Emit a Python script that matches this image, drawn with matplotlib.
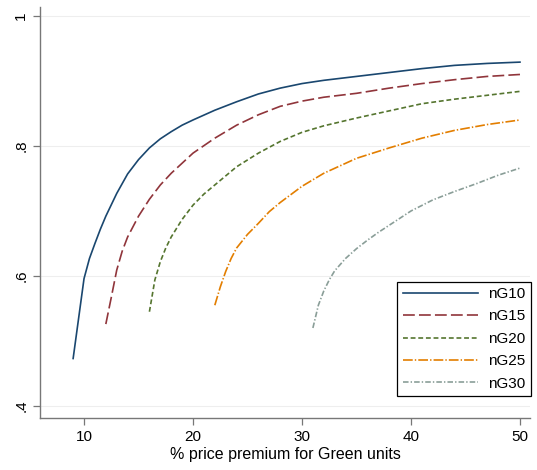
import numpy as np
import matplotlib
matplotlib.use("Agg")
import matplotlib.pyplot as plt

plt.rcParams['font.family'] = ['Liberation Sans', 'DejaVu Sans']
plt.rcParams['lines.scale_dashes'] = False

# values
x10 = [9, 10, 10.5, 11, 11.5, 12, 13, 14, 15, 16, 17, 18, 19, 20, 22, 24, 26, 28, 30, 32, 35, 38,
       41, 44, 47, 50]
y10 = [0.473, 0.596, 0.627, 0.650, 0.672, 0.692, 0.727, 0.757, 0.779, 0.797, 0.811, 0.822, 0.832,
       0.840, 0.855, 0.868, 0.880, 0.889, 0.896, 0.901, 0.907, 0.913, 0.919, 0.924, 0.927, 0.929]

x15 = [12, 12.5, 13, 13.5, 14, 15, 16, 17, 18, 20, 22, 24, 26, 28, 30, 32, 35, 38, 41, 44, 47, 50]
y15 = [0.526, 0.567, 0.609, 0.638, 0.660, 0.692, 0.718, 0.740, 0.758, 0.789, 0.812, 0.832, 0.848,
       0.861, 0.869, 0.875, 0.881, 0.889, 0.896, 0.902, 0.907, 0.910]

x20 = [16, 16.5, 17, 17.5, 18, 19, 20, 21, 22, 24, 26, 28, 30, 32, 35, 38, 41, 44, 47, 50]
y20 = [0.545, 0.594, 0.622, 0.643, 0.660, 0.687, 0.709, 0.726, 0.740, 0.768, 0.789, 0.807, 0.821,
       0.831, 0.843, 0.854, 0.865, 0.872, 0.878, 0.884]

x25 = [22, 22.5, 23, 23.5, 24, 25, 26, 27, 28, 30, 32, 35, 38, 41, 44, 47, 50]
y25 = [0.555, 0.583, 0.607, 0.627, 0.643, 0.664, 0.681, 0.699, 0.713, 0.738, 0.758, 0.781, 0.797,
       0.812, 0.824, 0.833, 0.840]

x30 = [31, 31.5, 32, 32.5, 33, 34, 35, 36, 37, 38, 40, 42, 44, 46, 48, 50]
y30 = [0.520, 0.555, 0.577, 0.594, 0.608, 0.627, 0.642, 0.655, 0.667, 0.678, 0.700, 0.717, 0.730,
       0.742, 0.755, 0.766]

labels = ["nG10", "nG15", "nG20", "nG25", "nG30"]
colors = ["#1a476f", "#90353b", "#55752f", "#e37e00", "#8a9e98"]
dashes = [None, (0, (8.5, 3)), (0, (3.5, 2)), (0, (7, 1.5, 1, 1.5)), (0, (4, 1.5, 1, 1.5))]
series = [(x10, y10), (x15, y15), (x20, y20), (x25, y25), (x30, y30)]

fig = plt.figure(figsize=(5.37, 4.70), dpi=100)
ax = fig.add_axes([40/537, 52/470, 490/537, 411/470])

for (xs, ys), lab, c, d in zip(series, labels, colors, dashes):
    ls = '-' if d is None else d
    ax.plot(xs, ys, color=c, lw=1.2, ls=ls, label=lab)

ax.set_xlim(5.96, 50.92)
ax.set_ylim(0.3815, 1.0138)
ax.set_xticks([10, 20, 30, 40, 50])
ax.set_yticks([0.4, 0.6, 0.8, 1.0])
ax.set_yticklabels([".4", ".6", ".8", "1"], rotation=90, va='center')
for g in [0.4, 0.6, 0.8, 1.0]:
    ax.axhline(g, color="#eeeeee", lw=0.8, zorder=0)

for s in ['top', 'right']:
    ax.spines[s].set_visible(False)
for s in ['left', 'bottom']:
    ax.spines[s].set_color("#777777")
    ax.spines[s].set_linewidth(1.0)
ax.tick_params(direction='out', length=5, width=0.9, color="#777777", labelsize=11)
ax.set_xlabel("% price premium for Green units", fontsize=11.5, labelpad=2)

leg = ax.legend(loc='lower right', bbox_to_anchor=(1.002, 0.0535), borderaxespad=0,
                fontsize=11, handlelength=4.9, labelspacing=0.55, fancybox=False,
                edgecolor='black', framealpha=1, borderpad=0.35, handletextpad=0.7)
leg.get_frame().set_linewidth(0.9)

fig.savefig("out.png", dpi=100)
